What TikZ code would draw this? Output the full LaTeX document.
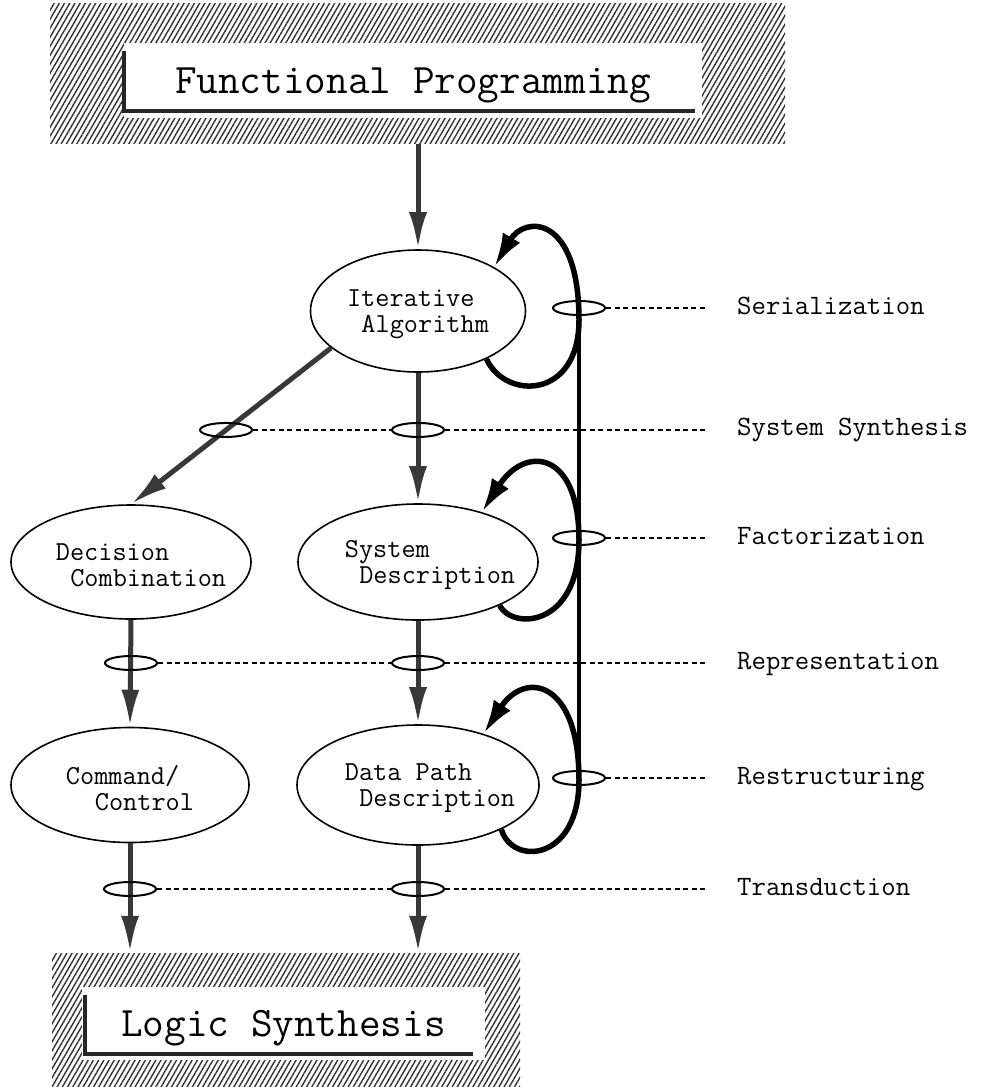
\documentclass[tikz,border=0pt]{standalone}
\usepackage{fontspec}
\usetikzlibrary{arrows.meta,shapes.geometric,patterns.meta,positioning}

\newcommand\ind{\hspace*{0.525em}}

\tikzset{
    hatch/.style = {pattern = {Lines[angle = 60, distance = 4.5pt, line width = 1.4pt]}, pattern color = black!80, inner sep = 0pt},
    titlebox/.style = {fill = white, inner sep = 0pt, text height = 28pt, text depth = 2pt, font = \ttfamily\fontsize{42}{46}\selectfont},
    rim/.style = {line width = 4pt, draw = black!85},
    stage/.style = {ellipse, draw, line width = 1.6pt, inner sep = 0pt},
    stagetext/.style = {align = left, inner sep = 0pt, font = \ttfamily\fontsize{27.5}{26}\selectfont},
    flow/.style = {line width = 5pt, draw = black!78, -{Latex[length = 37pt, width = 18pt]}},
    iterate/.style = {line width = 5.5pt, draw = black, -{Latex[length = 34pt, width = 20pt]}},
    tok/.style = {ellipse, draw = black, line width = 2pt, inner sep = 0pt, minimum width = 52pt, minimum height = 14pt},
    guide/.style = {line width = 1.8pt, dash pattern = on 5pt off 3.5pt},
    step label/.style = {anchor = west, inner sep = 0pt, text height = 16pt, text depth = 4pt, font = \ttfamily\fontsize{28}{26}\selectfont}
}

\begin{document}
\begin{tikzpicture}[x = 1pt, y = -1pt]
    \useasboundingbox (0,0) rectangle (981,1087);

    % the two hatched blocks
    \node [hatch, minimum width = 735pt, minimum height = 140pt] (fp) at (417.5,73) {};
    \node [titlebox, minimum width = 578pt, minimum height = 75pt] (fpt) at (413,80.5) {Functional Programming};
    \draw [rim] ([yshift = -8pt]fpt.north west) |- ([xshift = -7pt, yshift = 7pt]fpt.south east);

    \node [hatch, minimum width = 468pt, minimum height = 134pt] (ls) at (286,1020) {};
    \node [titlebox, minimum width = 403pt, minimum height = 73pt] (lst) at (283.5,1023.5) {Logic Synthesis};
    \draw [rim] ([xshift = 3pt, yshift = -8pt]lst.north west) |- ([xshift = -12pt, yshift = 6pt]lst.south east);

    % stages
    \node [stage, minimum width = 215pt, minimum height = 122pt,
        label = {[stagetext, yshift = -3pt]center:Iterative\\\ind Algorithm}] (IA) at (418,311) {};
    \node [stage, minimum width = 240pt, minimum height = 114pt,
        label = {[stagetext, xshift = 10pt, yshift = -3pt]center:Decision\\\ind Combination}] (DC) at (131,562) {};
    \node [stage, minimum width = 240pt, minimum height = 116pt,
        label = {[stagetext, xshift = 12pt, yshift = -3pt]center:System\\\ind Description}] (SD) at (418,562) {};
    \node [stage, minimum width = 238pt, minimum height = 115pt,
        label = {[stagetext, yshift = -3pt]center:Command/\\\ind\ind Control}] (CC) at (130,785) {};
    \node [stage, minimum width = 242pt, minimum height = 120pt,
        label = {[stagetext, xshift = 12pt, yshift = -3pt]center:Data Path\\\ind Description}] (DP) at (418,785) {};

    % flow between stages
    \draw [flow] (fp.south -| IA.north) -- (IA.north);
    \draw [flow] (IA.203) -- node [tok, pos = 0.525] (tdia) {} (DC.north);
    \draw [flow] (IA.south) -- (SD.north);
    \draw [flow] (DC.south) -- (CC.north);
    \draw [flow] (SD.south) -- (DP.north);
    \draw [flow] (CC.south) -- (CC.south |- ls.north);
    \draw [flow] (DP.south) -- (DP.south |- ls.north);

    % the bar on the right and the three self loops
    \coordinate (bartop) at (579,298);
    \coordinate (barbot) at (579,782);
    \draw [line width = 4pt] (bartop) -- (barbot);
    \draw [iterate] (IA.-35) .. controls (505,400) and (579,400) .. (579,320)
        .. controls (579,215) and (525,215) .. (IA.30);
    \draw [iterate] (SD.-28) .. controls (512,630) and (579,628) .. (579,540)
        .. controls (579,450) and (525,445) .. (SD.38);
    \draw [iterate] (DP.-28) .. controls (512,866) and (579,862) .. (579,780)
        .. controls (579,680) and (525,670) .. (DP.38);

    % rows of the steps
    \node [step label] (lser) at (737,308) {Serialization};
    \node [step label] (lsyn) at (tdia -| lser.west) {System Synthesis};
    \node [step label] (lfac) at (737,538) {Factorization};
    \node [step label] (lrep) at (737,663) {Representation};
    \node [step label] (lres) at (737,778) {Restructuring};
    \node [step label] (ltra) at (737,889) {Transduction};

    \node [tok] (tser) at (bartop |- lser) {};
    \node [tok] (tsyn) at (IA.south |- lsyn) {};
    \node [tok] (tfac) at (bartop |- lfac) {};
    \node [tok] (trepl) at (DC.south |- lrep) {};
    \node [tok] (trepm) at (SD.south |- lrep) {};
    \node [tok] (tres) at (bartop |- lres) {};
    \node [tok] (tral) at (CC.south |- ltra) {};
    \node [tok] (tram) at (DP.south |- ltra) {};

    \draw [guide, shorten >= 29pt] (tser.east) -- (lser.west);
    \draw [guide] (tdia.east) -- (tsyn.west);
    \draw [guide, shorten >= 29pt] (tsyn.east) -- (lsyn.west);
    \draw [guide, shorten >= 29pt] (tfac.east) -- (lfac.west);
    \draw [guide] (trepl.east) -- (trepm.west);
    \draw [guide, shorten >= 29pt] (trepm.east) -- (lrep.west);
    \draw [guide, shorten >= 29pt] (tres.east) -- (lres.west);
    \draw [guide] (tral.east) -- (tram.west);
    \draw [guide, shorten >= 29pt] (tram.east) -- (ltra.west);
\end{tikzpicture}
\end{document}
